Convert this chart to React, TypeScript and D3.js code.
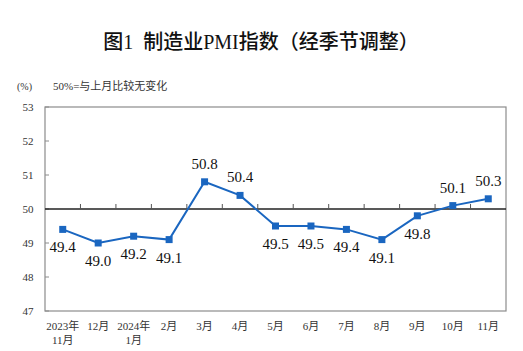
import * as d3 from "d3"

const months = ["2023年\n11月", "12月", "2024年\n1月", "2月", "3月", "4月", "5月", "6月", "7月", "8月", "9月", "10月", "11月"]
const pmi = [49.4, 49.0, 49.2, 49.1, 50.8, 50.4, 49.5, 49.5, 49.4, 49.1, 49.8, 50.1, 50.3]
const yTicks = [47, 48, 49, 50, 51, 52, 53]

const W = 523
const H = 351
const margin = { top: 107, right: 17, bottom: 40, left: 45 }
const serif = "'Times New Roman', 'Liberation Serif', 'Noto Sans CJK SC', serif"
const blue = "#1a66c0"
const frame = "#8c8c8c"

export default function App() {
  const x = d3
    .scaleBand<string>()
    .domain(months)
    .range([margin.left, W - margin.right])
  const y = d3
    .scaleLinear()
    .domain([47, 53])
    .range([H - margin.bottom, margin.top])

  const pts = pmi.map((v, i) => ({ v, m: months[i], cx: x(months[i])! + x.bandwidth() / 2, cy: y(v) }))
  const line = d3
    .line<(typeof pts)[0]>()
    .x((d) => d.cx)
    .y((d) => d.cy)

  const x0 = margin.left
  const x1 = W - margin.right
  const boundaries = months.slice(1).map((m) => x(m)!)

  return (
    <svg width={W} height={H} style={{ position: "absolute", left: 0, top: 0, background: "#fff" }}>
      <text
        x={261}
        y={49}
        textAnchor="middle"
        fontSize={20}
        fontWeight={500}
        fill="#111"
        fontFamily={serif}
        style={{ whiteSpace: "pre" }}
      >
        {"图1  制造业PMI指数（经季节调整）"}
      </text>
      <text x={17} y={90} fontSize={10} fill="#333" fontFamily={serif}>
        (%)
      </text>
      <text x={53} y={90} fontSize={11} fill="#333" fontFamily={serif}>
        50%=与上月比较无变化
      </text>

      {/* frame */}
      <rect x={x0} y={y(53)} width={x1 - x0} height={y(47) - y(53)} fill="none" stroke={frame} strokeWidth={1.2} />

      {yTicks.map((t) => (
        <g key={t}>
          <line x1={x0} x2={x0 + 4} y1={y(t)} y2={y(t)} stroke={frame} />
          <text x={28} y={y(t) + 4} textAnchor="middle" fontSize={11} fill="#333" fontFamily={serif}>
            {t}
          </text>
        </g>
      ))}

      {/* 50 reference line with ticks */}
      <line x1={x0} x2={x1} y1={y(50)} y2={y(50)} stroke="#222" strokeWidth={1.3} />
      {boundaries.map((b, i) => (
        <line key={i} x1={b} x2={b} y1={y(50)} y2={y(50) - 5} stroke="#555" />
      ))}

      <path d={line(pts) ?? ""} fill="none" stroke={blue} strokeWidth={2} />
      {pts.map((p, i) => (
        <rect key={i} x={p.cx - 3.5} y={p.cy - 3.5} width={7} height={7} fill={blue} />
      ))}
      {pts.map((p, i) => (
        <text
          key={"l" + i}
          x={p.cx}
          y={p.v > 50 ? p.cy - 13 : p.cy + 23}
          textAnchor="middle"
          fontSize={15}
          fill="#111"
          fontFamily={serif}
        >
          {p.v.toFixed(1)}
        </text>
      ))}

      {months.map((m) => {
        const lines = m.split("\n")
        const cx = x(m)! + x.bandwidth() / 2
        return (
          <text key={m} x={cx} textAnchor="middle" fontSize={11} fill="#333" fontFamily={serif}>
            {lines.map((l, j) => (
              <tspan key={j} x={cx} y={330 + j * 14}>
                {l}
              </tspan>
            ))}
          </text>
        )
      })}
    </svg>
  )
}
